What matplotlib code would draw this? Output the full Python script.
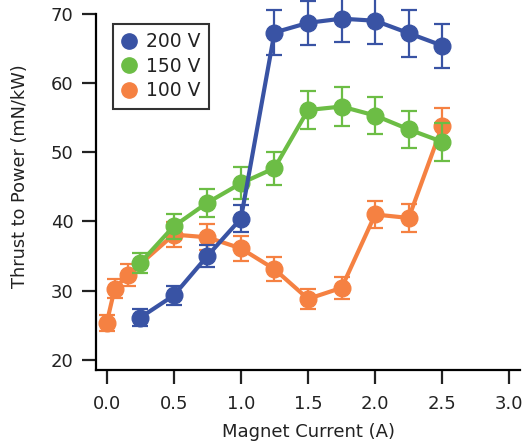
#!/usr/bin/env python3
# Thrust-to-power vs magnet current for three discharge voltages.
import matplotlib
matplotlib.use('Agg')
import matplotlib.pyplot as plt

x_200 = [0.25, 0.5, 0.75, 1.0, 1.25, 1.5, 1.75, 2.0, 2.25, 2.5]
y_200 = [26.1, 29.3, 35.0, 40.4, 67.3, 68.7, 69.3, 69.0, 67.2, 65.4]
e_200 = [1.2, 1.4, 1.6, 2.0, 3.3, 3.2, 3.4, 3.3, 3.4, 3.2]

x_150 = [0.25, 0.5, 0.75, 1.0, 1.25, 1.5, 1.75, 2.0, 2.25, 2.5]
y_150 = [34.0, 39.3, 42.7, 45.5, 47.7, 56.1, 56.6, 55.3, 53.3, 51.5]
e_150 = [1.5, 1.8, 2.0, 2.3, 2.4, 2.8, 2.8, 2.7, 2.7, 2.7]

x_100 = [0.0, 0.06, 0.16, 0.5, 0.75, 1.0, 1.25, 1.5, 1.75, 2.0, 2.25, 2.5]
y_100 = [25.3, 30.3, 32.3, 38.1, 37.7, 36.1, 33.1, 28.8, 30.4, 41.0, 40.5, 53.8]
e_100 = [1.2, 1.4, 1.6, 1.8, 1.9, 1.8, 1.7, 1.5, 1.6, 2.0, 2.0, 2.6]

series = [
    ('100 V', x_100, y_100, e_100, '#f58142', 1),
    ('150 V', x_150, y_150, e_150, '#6cbd45', 2),
    ('200 V', x_200, y_200, e_200, '#3953a4', 3),
]

fig = plt.figure(figsize=(5.27, 4.46), dpi=100)
ax = fig.add_axes([0.182, 0.170, 0.805, 0.799])

handles = {}
for label, xs, ys, es, color, z in series:
    c = ax.errorbar(xs, ys, yerr=es, color=color, lw=3, marker='o', ms=12,
                    elinewidth=1.6, capsize=6, capthick=1.6, zorder=z,
                    clip_on=False)
    for cap in c[1]:
        cap.set_clip_on(False)
    for bar in c[2]:
        bar.set_clip_on(False)
    handles[label] = ax.plot([], [], 'o', color=color, ms=11, label=label)[0]

ax.set_xlim(-0.08, 3.08)
ax.set_ylim(18.5, 70)
ax.set_xticks([0.0, 0.5, 1.0, 1.5, 2.0, 2.5, 3.0])
ax.set_xticklabels(['0.0', '0.5', '1.0', '1.5', '2.0', '2.5', '3.0'])
ax.set_yticks([20, 30, 40, 50, 60, 70])

for side in ['top', 'right']:
    ax.spines[side].set_visible(False)
for side in ['left', 'bottom']:
    ax.spines[side].set_linewidth(1.6)
ax.tick_params(direction='out', length=10, width=1.6, labelsize=13,
               colors='#222222', pad=6)
ax.tick_params(axis='x', pad=8)

ax.set_xlabel('Magnet Current (A)', fontsize=13, color='#222222', va='center')
ax.set_ylabel('Thrust to Power (mN/kW)', fontsize=12.8, color='#222222', va='center')
ax.xaxis.set_label_coords(0.5, -0.174)
ax.yaxis.set_label_coords(-0.179, 0.545)

leg = ax.legend(handles=[handles['200 V'], handles['150 V'], handles['100 V']],
                loc='upper left', bbox_to_anchor=(0.04, 0.972), fontsize=13.5,
                frameon=True, fancybox=False, handlelength=0.8,
                handletextpad=0.5, borderpad=0.45, labelspacing=0.3,
                borderaxespad=0)
leg.get_frame().set_edgecolor('black')
leg.get_frame().set_linewidth(1.5)
for t in leg.get_texts():
    t.set_color('#222222')

fig.savefig('out.png', dpi=100)
